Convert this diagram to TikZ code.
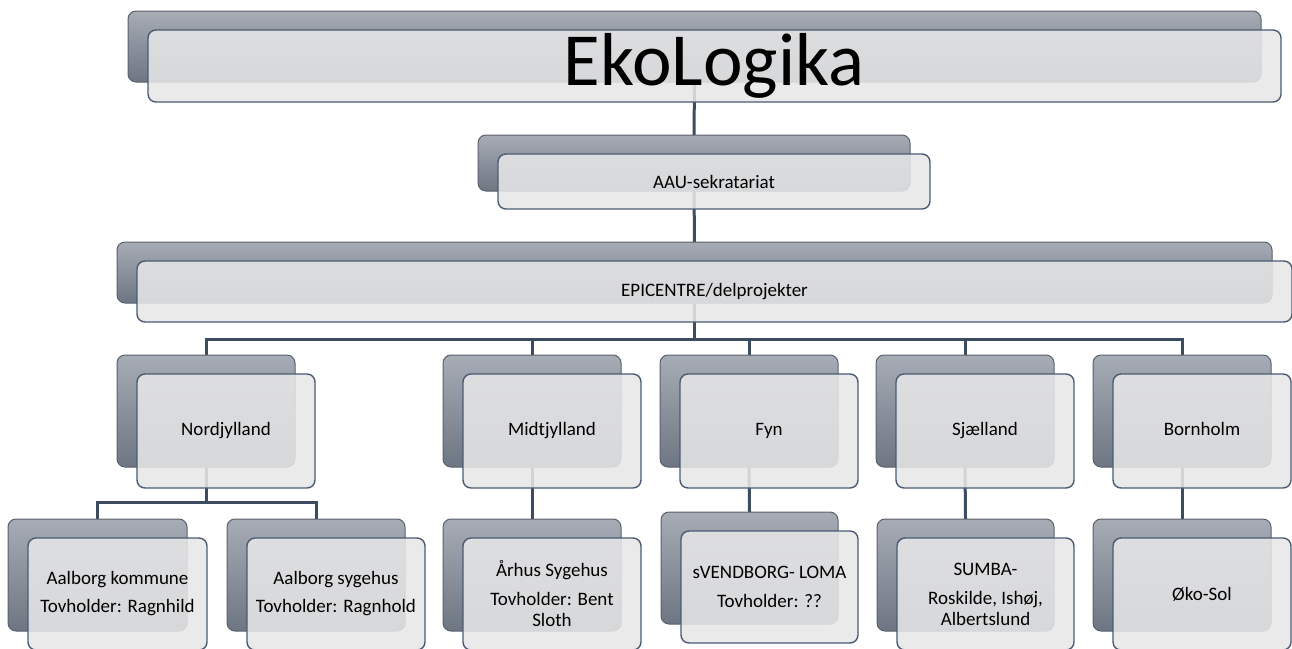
\documentclass[tikz,border=0pt]{standalone}
\usepackage{fontspec}
\setmainfont{Carlito}
\usetikzlibrary{backgrounds}
\definecolor{conn}{HTML}{3E4C61}
\definecolor{frontline}{HTML}{4A5B73}
\definecolor{backline}{HTML}{5A616C}
\definecolor{backtop}{HTML}{A7ACB5}
\definecolor{backbot}{HTML}{6E7683}
\definecolor{frontfill}{HTML}{E7E7E7}
\tikzset{
  backbox/.style={rectangle, rounded corners=8pt, draw=backline, line width=1pt,
    top color=backtop, bottom color=backbot, anchor=north west, outer sep=0pt, inner sep=0pt},
  frontbox/.style={rectangle, rounded corners=8pt, draw=frontline, line width=1.4pt,
    fill=frontfill, fill opacity=0.87, text opacity=1, anchor=north west, outer sep=0pt,
    inner sep=0pt, align=center, font=\fontsize{19}{21}\selectfont},
  connector/.style={draw=conn, line width=3pt},
}
\newcommand{\twobox}[7]{%
  \node[backbox, minimum width=#4pt, minimum height=#5pt] (#1b) at (#2,#3) {};
  \node[frontbox, minimum width=#4pt, minimum height=#6pt] (#1) at (#2+20,#3+19) {#7};
}
\begin{document}
\begin{tikzpicture}[x=1pt,y=-1pt]
\useasboundingbox (0,0) rectangle (1292,648);
% level 0
\twobox{top}{128}{11}{1133}{71}{72}{}
\node[font=\fontsize{75}{85}\selectfont, anchor=center] (toptext) at (714,66) {EkoLogika};
% level 1
\twobox{aau}{478}{135}{432}{56}{55}{AAU-sekratariat}
\twobox{epi}{117}{242}{1155}{61}{61}{EPICENTRE/delprojekter}
% level 2
\twobox{nord}{117}{355}{178}{112}{114}{Nordjylland}
\twobox{midt}{443}{355}{178}{112}{114}{Midtjylland}
\twobox{fyn}{660}{355}{178}{112}{114}{Fyn\strut}
\twobox{sjae}{876}{355}{178}{112}{114}{Sjælland}
\twobox{born}{1093}{355}{178}{112}{114}{Bornholm\strut}
% level 3
\twobox{aakom}{8}{519}{179}{112}{112}{Aalborg kommune\\[7pt]Tovholder: Ragnhild}
\twobox{aasyg}{227}{519}{178}{112}{112}{Aalborg sygehus\\[7pt]Tovholder: Ragnhold}
\twobox{aarh}{443}{519}{178}{112}{112}{Århus Sygehus\\[8pt]Tovholder: Bent\\Sloth}
\twobox{svend}{661}{512}{177}{112}{112}{sVENDBORG- LOMA\\[8pt]Tovholder: ??}
\twobox{sumba}{877}{519}{177}{112}{112}{SUMBA-\\[8pt]Roskilde, Ishøj,\\Albertslund}
\twobox{oko}{1093}{519}{178}{112}{112}{Øko-Sol}
% connectors
\coordinate (bus1) at (694.5,339);
\coordinate (bus2) at (206,502);
\begin{pgfonlayer}{background}
\draw[connector] (topb.south) -- (aaub.north);
\draw[connector] (aaub.south) -- (epib.north);
\draw[connector] (epib.south) -- (bus1) -| (nordb.north);
\draw[connector] (bus1) -| (midtb.north);
\draw[connector] (bus1) -| (fynb.north);
\draw[connector] (bus1) -| (sjaeb.north);
\draw[connector] (bus1) -| (bornb.north);
\draw[connector] (nordb.south) -- (bus2) -| (aakomb.north);
\draw[connector] (bus2) -| (aasygb.north);
\draw[connector] (midtb.south) -- (aarhb.north);
\draw[connector] (fynb.south) -- (svendb.north);
\draw[connector] (sjaeb.south) -- (sumbab.north);
\draw[connector] (bornb.south) -- (okob.north);
\end{pgfonlayer}
\end{tikzpicture}
\end{document}
